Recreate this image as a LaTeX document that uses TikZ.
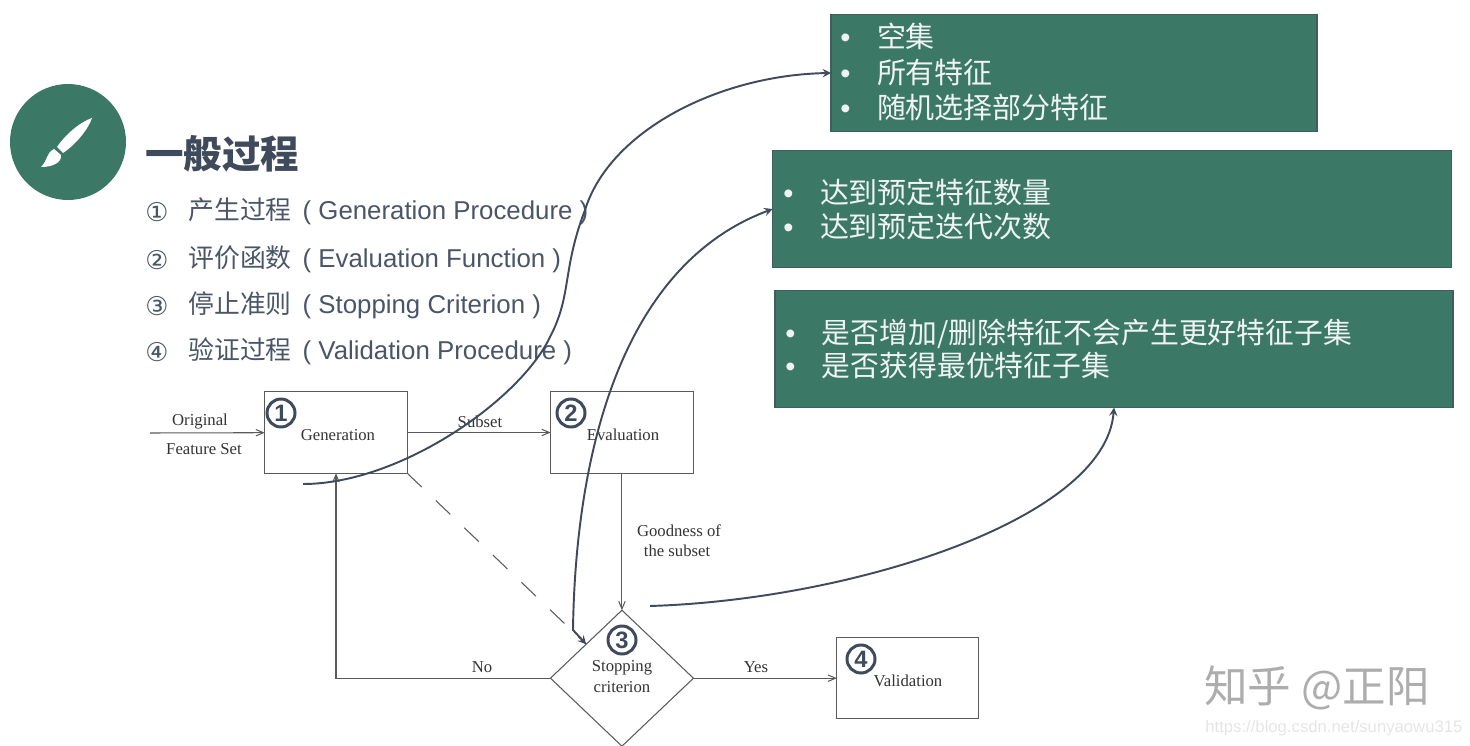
\documentclass[tikz,border=0pt]{standalone}
\usepackage{fontspec}
\setmainfont{Liberation Serif}
\newfontfamily\cjk{Noto Sans CJK SC}
\newfontfamily\arial{Liberation Sans}
\newfontfamily\dejavu{DejaVu Sans}
\usetikzlibrary{positioning}
\usetikzlibrary{arrows}
\usetikzlibrary{shapes.geometric}
\definecolor{boxgreen}{HTML}{3B7866}
\definecolor{boxedge}{HTML}{3F5E5E}
\definecolor{slate}{HTML}{3F4A5C}
\definecolor{listgray}{HTML}{4A5568}
\definecolor{linegray}{HTML}{5A5A5A}
\newcommand{\cn}[1]{{\cjk #1}}
\newcommand{\en}[1]{{\arial #1}}
\newcommand{\bul}{\en{\textbullet}\hspace{0.53cm}}

\begin{document}
\begin{tikzpicture}[x=0.02cm,y=-0.02cm,
  block/.style={rectangle,draw=linegray,line width=0.6pt,outer sep=0,inner sep=0,minimum width=2.84cm,minimum height=1.63cm},
  caption/.style={font=\fontsize{9.5}{11}\selectfont,text=black!80,inner sep=0,align=center},
  flow/.style={draw=linegray,line width=0.6pt,>=angle 45,->},
  pointer/.style={draw=slate,line width=1.1pt,>=stealth},
  badge/.style={circle,draw=slate,line width=1.7pt,inner sep=0,minimum size=0.56cm,text=slate,font=\arial\bfseries\fontsize{13.5}{13.5}\selectfont},
  panel/.style={rectangle,fill=boxgreen,draw=boxedge,line width=0.8pt,outer sep=0,inner sep=0},
  paneltext/.style={text=white!92!boxgreen,align=left,inner sep=0,anchor=west},
  entry/.style={text=listgray,inner sep=0,anchor=west,font=\fontsize{14.7}{16}\selectfont}]
\useasboundingbox (0,0) rectangle (1470,746);

% header with brush
\node (logo) at (68,142) [circle,fill=boxgreen,inner sep=0,minimum size=2.32cm]{};
\fill[white] (92,118) .. controls (80,122) and (65,135) .. (57,147) -- (63,153) .. controls (75,145) and (88,130) .. cycle;
\fill[white] (54,149) .. controls (46,153) and (48,160) .. (41,167) .. controls (52,167) and (62,163) .. (61,155) -- cycle;
\node (title) at (145,154) [anchor=west,inner sep=0,text=slate,font=\cjk\bfseries\fontsize{21.9}{24}\selectfont]{一般过程};

\node (num1) at (145,212) [entry]{\dejavu ①};
\node (num2) at (145,260) [entry]{\dejavu ②};
\node (num3) at (145,306) [entry]{\dejavu ③};
\node (num4) at (145,352) [entry]{\dejavu ④};
\node (item1) at (188,211) [entry]{\cn{产生过程}\en{\hspace{0.22cm}( Generation Procedure )}};
\node (item2) at (188,259) [entry]{\cn{评价函数}\en{\hspace{0.22cm}( Evaluation Function )}};
\node (item3) at (188,305) [entry]{\cn{停止准则}\en{\hspace{0.22cm}( Stopping Criterion )}};
\node (item4) at (188,351) [entry]{\cn{验证过程}\en{\hspace{0.22cm}( Validation Procedure )}};

% flow chart
\node (gen) at (336,432.5) [block,minimum width=2.85cm]{};
\node (eval) [block,minimum width=2.85cm,right = 2.87cm of gen]{};
\node (stop) [diamond,draw=linegray,line width=0.6pt,outer sep=0,inner sep=0,minimum width=2.86cm,minimum height=2.72cm,below = 2.74cm of eval]{};
\node (valid) [block,right = 2.87cm of stop]{};

\node (gentext) at (338,435) [caption]{Generation};
\node (evaltext) at (623,435) [caption]{Evaluation};
\node (stoptext) at (622,677) [caption]{Stopping\\[1pt]criterion};
\node (validtext) at (908,681) [caption]{Validation};
\node (orig) at (200,422) [caption]{Original};
\node (feat) at (204,449) [caption]{Feature Set};
\node (subset) at (480,422) [caption]{Subset};
\node (good) at (679,531) [caption]{Goodness of};
\node (thesub) at (677,551) [caption]{the subset};
\node (no) at (482,667) [caption]{No};
\node (yes) at (756,667) [caption]{Yes};

\coordinate (source) at (150,433);
\draw [flow] (source)--(gen);
\draw [flow] (gen)--(eval);
\draw [flow] (eval)--(stop);
\draw [flow] (stop)--(valid);
\draw [flow] (stop.west)-|(gen.south);
\draw [flow,-,dash pattern=on 0.4cm off 0.39cm] (gen.south east)--(stop.north west);

\node (one) at (281,413) [badge]{1};
\node (two) at (571,413) [badge]{2};
\node (three) at (622,640) [badge]{3};
\node (four) at (861,659) [badge]{4};

% right panels
\node (panel1) at (1074,73) [panel,minimum width=9.72cm,minimum height=2.34cm]{};
\node (panel2) at (1112,209) [panel,minimum width=13.58cm,minimum height=2.34cm]{};
\node (panel3) at (1114,349) [panel,minimum width=13.56cm,minimum height=2.34cm]{};
\node (text1) at (840,72) [paneltext,font=\cjk\fontsize{16.5}{20.2}\selectfont]{\bul 空集\\\bul 所有特征\\\bul 随机选择部分特征};
\node (text2) at (783,209) [paneltext,font=\cjk\fontsize{16.5}{19.3}\selectfont]{\bul 达到预定特征数量\\\bul 达到预定迭代次数};
\node (text3) at (785,349) [paneltext,font=\cjk\fontsize{16.4}{19.3}\selectfont]{\bul 是否增加/删除特征不会产生更好特征子集\\\bul 是否获得最优特征子集};

% curved pointers
\coordinate (start1) at (303,484);
\coordinate (mid1) at (550,337);
\coordinate (mid2) at (585,210);
\coordinate (corner) at (573,630);
\coordinate (start3) at (650,606);
\draw [pointer,->] (start1) .. controls (400,484) and (520,400) .. (mid1) .. controls (572,295) and (562,270) .. (mid2) .. controls (610,130) and (720,75) .. (panel1.west);
\draw [pointer,<->] (stop.north west)--(corner) .. controls (575,480) and (610,270) .. (panel2.west);
\draw [pointer,->] (start3) .. controls (850,600) and (1105,520) .. (panel3.south);

% watermark
\node (mark) at (1204,688) [anchor=west,inner sep=0,text=black!32,font=\cjk\fontsize{24.8}{26}\selectfont]{知乎 @正阳};
\node (url) at (1205,728) [anchor=west,inner sep=0,text=black!10,font=\arial\fontsize{9.5}{11}\selectfont]{https://blog.csdn.net/sunyaowu315};
\end{tikzpicture}
\end{document}
